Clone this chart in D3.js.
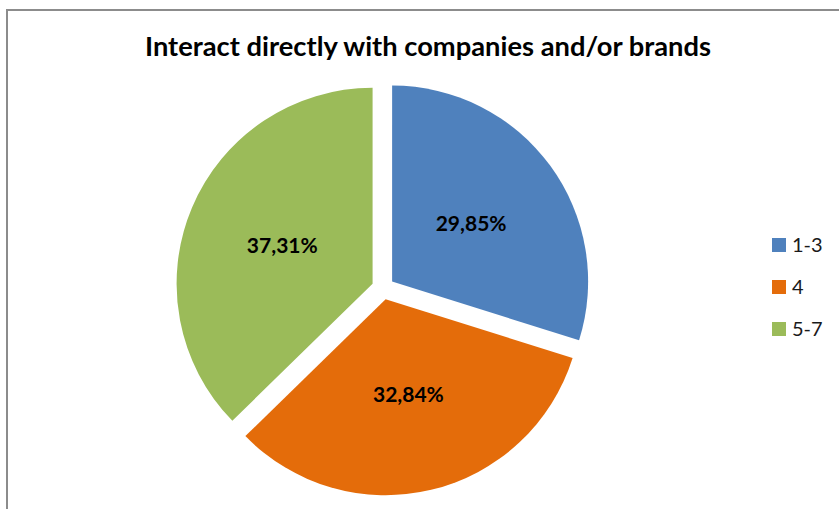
<!DOCTYPE html>
<html>
<head>
<meta charset="utf-8">
<script src="https://cdn.jsdelivr.net/npm/d3@7"></script>
<style>
  html, body { margin: 0; padding: 0; background: #fff; }
  svg { display: block; }
</style>
</head>
<body>
<svg id="chart" width="839" height="509"></svg>
<script>
// Survey answers for "Interact directly with companies and/or brands"
const categories = ["1-3", "4", "5-7"];
const shares = [29.85, 32.84, 37.31];
const colors = ["#4f81bd", "#e46c0a", "#9bbb59"];
const title = "Interact directly with companies and/or brands";

const W = 839, H = 509;
const svg = d3.select("#chart");

// chart area frame (continues past the right and bottom edges)
svg.append("rect")
  .attr("x", 7).attr("y", 10)
  .attr("width", W + 20).attr("height", H + 20)
  .attr("fill", "#fff")
  .attr("stroke", "#8c8c8c")
  .attr("stroke-width", 2);

// title, condensed to its box width
svg.append("text")
  .attr("x", 428).attr("y", 56)
  .attr("text-anchor", "middle")
  .attr("font-family", "Lato, 'Open Sans', sans-serif")
  .attr("font-weight", 700)
  .attr("font-size", 26)
  .attr("textLength", 566)
  .attr("lengthAdjust", "spacingAndGlyphs")
  .attr("fill", "#000")
  .text(title);

// exploded pie
const cx = 383, cy = 288.2, radius = 196, explode = 11.3;
const pie = d3.pie().sort(null).value(d => d)
  .startAngle(0).endAngle(2 * Math.PI);
const arcs = pie(shares);
const arc = d3.arc().innerRadius(0).outerRadius(radius);
const color = d3.scaleOrdinal().domain(categories).range(colors);

const g = svg.append("g").attr("transform", `translate(${cx},${cy})`);

const mid = d => (d.startAngle + d.endAngle) / 2;
const offset = (d, dist) => [Math.sin(mid(d)) * dist, -Math.cos(mid(d)) * dist];

const slices = g.selectAll("g.slice")
  .data(arcs)
  .join("g")
  .attr("class", "slice")
  .attr("transform", d => {
    const [dx, dy] = offset(d, explode);
    return `translate(${dx},${dy})`;
  });

slices.append("path")
  .attr("d", arc)
  .attr("fill", (d, i) => color(categories[i]));

const fmt = v => d3.format(".2f")(v).replace(".", ",") + "%";

slices.append("text")
  .attr("x", d => offset(d, radius * 0.5)[0])
  .attr("y", d => offset(d, radius * 0.5)[1])
  .attr("dy", "0.36em")
  .attr("text-anchor", "middle")
  .attr("font-family", "Lato, 'Open Sans', sans-serif")
  .attr("font-weight", 700)
  .attr("font-size", 21)
  .attr("fill", "#000")
  .text(d => fmt(d.data));

// legend
const legend = svg.append("g").attr("transform", "translate(772,238)");
const items = legend.selectAll("g")
  .data(categories)
  .join("g")
  .attr("transform", (d, i) => `translate(0,${i * 42})`);

items.append("rect")
  .attr("width", 14).attr("height", 14)
  .attr("fill", d => color(d));

items.append("text")
  .attr("x", 20).attr("y", 7)
  .attr("dy", "0.36em")
  .attr("font-family", "Lato, 'Open Sans', sans-serif")
  .attr("font-size", 20)
  .attr("fill", "#1a1a1a")
  .text(d => d);
</script>
</body>
</html>
